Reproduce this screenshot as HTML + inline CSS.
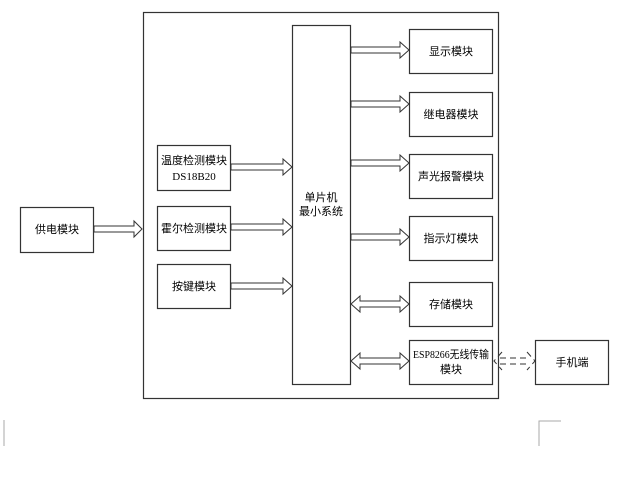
<!DOCTYPE html>
<html><head><meta charset="utf-8"><style>
body{margin:0;background:#fff;width:624px;height:473px;overflow:hidden}
svg text{font-family:"Liberation Serif","Noto Sans CJK SC",sans-serif;font-size:11px;fill:#000}
</style></head><body>
<svg width="624" height="473" viewBox="0 0 624 473">
<g fill="#fff" stroke="#333" stroke-width="1.2">
<rect x="143.5" y="12.5" width="355" height="386"/>
<rect x="292.5" y="25.5" width="58" height="359"/>
<rect x="157.5" y="145.5" width="73" height="45"/>
<rect x="157.5" y="206.5" width="73" height="44"/>
<rect x="157.5" y="264.5" width="73" height="44"/>
<rect x="20.5" y="207.5" width="73" height="45"/>
<rect x="409.5" y="29.5" width="83" height="44"/>
<rect x="409.5" y="92.5" width="83" height="44"/>
<rect x="409.5" y="154.5" width="83" height="44"/>
<rect x="409.5" y="216.5" width="83" height="44"/>
<rect x="409.5" y="282.5" width="83" height="44"/>
<rect x="409.5" y="340.5" width="83" height="44"/>
<rect x="535.5" y="340.5" width="73" height="44"/>
</g>
<g fill="#fff" stroke="#333" stroke-width="1">
<polygon points="94,226 134,226 134,221 142,229 134,237 134,232 94,232"/>
<polygon points="231,164 283,164 283,159 292,167 283,175 283,170 231,170"/>
<polygon points="231,224 283,224 283,219 292,227 283,235 283,230 231,230"/>
<polygon points="231,283 283,283 283,278 292,286 283,294 283,289 231,289"/>
<polygon points="351,47 400,47 400,42 409,50 400,58 400,53 351,53"/>
<polygon points="351,101 400,101 400,96 409,104 400,112 400,107 351,107"/>
<polygon points="351,160 400,160 400,155 409,163 400,171 400,166 351,166"/>
<polygon points="351,234 400,234 400,229 409,237 400,245 400,240 351,240"/>
<polygon points="351,304 360,296 360,301 400,301 400,296 409,304 400,312 400,307 360,307 360,312"/>
<polygon points="351,361 360,353 360,358 400,358 400,353 409,361 400,369 400,364 360,364 360,369"/>
</g>
<g fill="none" stroke="#333" stroke-width="1" stroke-dasharray="6,4">
<path d="M502,352 L494,361 L502,370"/>
<line x1="500" y1="358" x2="527" y2="358"/>
<line x1="500" y1="364" x2="527" y2="364"/>
<path d="M527,352 L535,361 L527,370"/>
</g>
<g stroke="#aaa" fill="none" stroke-width="1">
<path d="M4,420 L4,446"/>
<path d="M539,446 L539,421 L561,421"/>
</g>
<g text-anchor="middle">
<text x="194" y="164">温度检测模块</text>
<text x="194" y="180">DS18B20</text>
<text x="194" y="232">霍尔检测模块</text>
<text x="194" y="290">按键模块</text>
<text x="57" y="233">供电模块</text>
<text x="321" y="201">单片机</text>
<text x="321" y="215">最小系统</text>
<text x="451" y="55">显示模块</text>
<text x="451" y="118">继电器模块</text>
<text x="451" y="180">声光报警模块</text>
<text x="451" y="242">指示灯模块</text>
<text x="451" y="308">存储模块</text>
<text x="451" y="358" textLength="76" lengthAdjust="spacingAndGlyphs">ESP8266无线传输</text>
<text x="451" y="373">模块</text>
<text x="572" y="366">手机端</text>
</g>
</svg>
</body></html>
